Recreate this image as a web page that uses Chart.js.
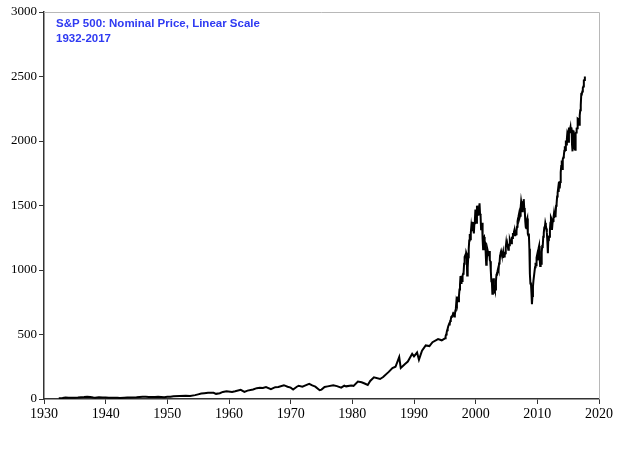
<!DOCTYPE html>
<html>
<head>
<meta charset="utf-8">
<script src="https://cdn.jsdelivr.net/npm/chart.js@4.4.0/dist/chart.umd.min.js"></script>
<style>
html,body{margin:0;padding:0;background:#fff;}
#wrap{width:640px;height:453px;position:relative;}
</style>
</head>
<body>
<div id="wrap"><canvas id="c" width="640" height="453"></canvas></div>
<script>
const titleLines = ["S&P 500: Nominal Price, Linear Scale", "1932-2017"];
const xTicks = [1930,1940,1950,1960,1970,1980,1990,2000,2010,2020];
const yTicks = [0,500,1000,1500,2000,2500,3000];

// Early period (decimal year, approx. price)
const earlyYears = [1932.4,1932.6,1933.0,1933.5,1934.0,1934.5,1935.0,1935.5,1936.0,1936.5,1937.0,1937.5,1938.0,1938.3,1938.9,1939.5,1940.0,1940.5,1941.0,1941.9,1942.3,1943.0,1943.5,1944.0,1945.0,1946.0,1946.5,1947.0,1948.0,1948.5,1949.5,1950.0,1950.5,1951.0,1952.0,1953.0,1953.7,1954.5,1955.0,1955.5,1956.0,1956.6,1957.5,1957.9,1958.5,1959.0,1959.6,1960.5,1961.0,1961.9,1962.5,1963.0,1963.9,1964.5,1965.0,1965.5,1966.0,1966.8,1967.5,1968.0,1968.9,1969.5,1970.0,1970.4,1971.0,1971.3,1971.9,1972.5,1973.0,1973.5,1974.0,1974.7,1975.0,1975.5,1976.0,1976.9,1977.5,1978.2,1978.7,1979.0,1979.8,1980.2,1980.9,1981.5,1981.9,1982.5,1982.9,1983.5,1984.5,1985.0,1985.9,1986.5,1987.0,1987.6,1987.85,1988.5,1989.0,1989.7,1990.0,1990.5,1990.8,1991.3,1991.9,1992.5,1993.0,1993.9,1994.5];
const earlyPrices = [5,6,7,11,10.5,9.5,9.3,11,14,15,17.5,15,11,9,13,11,12,10,10.5,9,7.5,10,11.8,11.7,13.5,18,18,15.5,15,16.5,14,17,18,21,24,26,23,30,36,42,45,48,48,40,45,55,60,55,60,71,55,65,74,84,87,85,92,77,92,93,107,95,88,73,95,103,96,108,118,105,96,68,73,93,98,107,100,88,103,98,105,102,135,130,122,109,140,168,155,170,210,240,250,325,240,270,290,350,330,360,305,375,415,410,440,465,455];

// Monthly closes from January 1995
const monthlyStart = 1995;
const monthlyPrices = [
 470,487,500,515,533,545,562,562,584,582,605,615,
 636,640,645,654,669,671,640,652,687,705,757,741,
 786,791,757,801,848,885,954,899,947,915,955,970,
 980,1049,1102,1112,1091,1134,1121,957,1017,1099,1164,1229,
 1280,1238,1286,1335,1302,1373,1329,1320,1283,1363,1389,1469,
 1394,1366,1499,1452,1421,1455,1431,1518,1437,1429,1315,1320,
 1366,1240,1160,1249,1256,1224,1211,1134,1041,1060,1139,1148,
 1130,1107,1147,1077,1067,990,912,916,815,886,936,880,
 856,841,848,917,964,975,990,1008,996,1051,1058,1112,
 1131,1145,1126,1107,1121,1141,1102,1104,1115,1130,1174,1212,
 1181,1204,1181,1157,1192,1191,1234,1220,1229,1207,1249,1248,
 1280,1281,1295,1311,1270,1270,1277,1304,1336,1378,1401,1418,
 1438,1407,1421,1482,1531,1503,1455,1474,1527,1549,1481,1468,
 1379,1331,1323,1386,1400,1280,1267,1283,1165,969,896,903,
 826,735,798,873,919,919,987,1021,1057,1036,1096,1115,
 1074,1104,1169,1187,1089,1031,1102,1049,1141,1183,1181,1258,
 1286,1327,1326,1364,1345,1321,1292,1219,1131,1253,1247,1258,
 1312,1366,1408,1398,1310,1362,1379,1407,1441,1412,1416,1426,
 1498,1515,1569,1598,1631,1606,1686,1633,1682,1757,1806,1848,
 1783,1859,1872,1884,1924,1960,1931,2003,1972,2018,2068,2059,
 1995,2105,2068,2086,2107,2063,2104,1972,1920,2079,2080,2044,
 1940,1932,2060,2065,2097,2099,2174,2171,2168,2126,2199,2239,
 2279,2364,2363,2384,2412,2423,2470,2472,2500
];

const points = earlyYears.map((y,i)=>({x:y,y:earlyPrices[i]}))
  .concat(monthlyPrices.map((p,i)=>({x:monthlyStart + (i+0.5)/12, y:p})));

const frame = {
  id:'frame',
  afterDatasetsDraw(chart){
    const {ctx, chartArea:a} = chart;
    ctx.save();
    ctx.strokeStyle = '#b8b8b8';
    ctx.lineWidth = 1;
    ctx.beginPath();
    ctx.moveTo(a.left, a.top+0.5);
    ctx.lineTo(a.right+0.5, a.top+0.5);
    ctx.lineTo(a.right+0.5, a.bottom);
    ctx.stroke();
    ctx.fillStyle = '#2f3af2';
    ctx.font = 'bold 11.5px "Liberation Sans", Arial, sans-serif';
    ctx.textBaseline = 'top';
    ctx.fillText(titleLines[0], a.left + 12, a.top + 6);
    ctx.fillText(titleLines[1], a.left + 12, a.top + 21);
    ctx.restore();
  }
};

new Chart(document.getElementById('c'), {
  type:'line',
  data:{datasets:[{data:points, borderColor:'#000', borderWidth:2, pointRadius:0, tension:0, fill:false}]},
  options:{
    responsive:false, animation:false,
    layout:{padding:{top:12,right:41,left:0,bottom:0}},
    plugins:{legend:{display:false}, tooltip:{enabled:false}},
    scales:{
      x:{type:'linear', min:1930, max:2020,
        afterBuildTicks(s){ s.ticks = xTicks.map(v=>({value:v})); },
        afterFit(s){ s.height = 54; },
        border:{color:'#333', width:1.5},
        grid:{drawOnChartArea:false, drawTicks:true, tickLength:5, color:'#333'},
        ticks:{color:'#000', font:{family:'"Liberation Serif", "Times New Roman", serif', size:14}, padding:2, maxRotation:0, autoSkip:false, callback:v=>String(v)}
      },
      y:{min:0, max:3000,
        afterBuildTicks(s){ s.ticks = yTicks.map(v=>({value:v})); },
        afterFit(s){ s.width = 44; },
        border:{color:'#333', width:1.5},
        grid:{drawOnChartArea:false, drawTicks:true, tickLength:5, color:'#333'},
        ticks:{color:'#000', font:{family:'"Liberation Serif", "Times New Roman", serif', size:13}, padding:2, callback:v=>String(v)}
      }
    }
  },
  plugins:[frame]
});
</script>
</body>
</html>
